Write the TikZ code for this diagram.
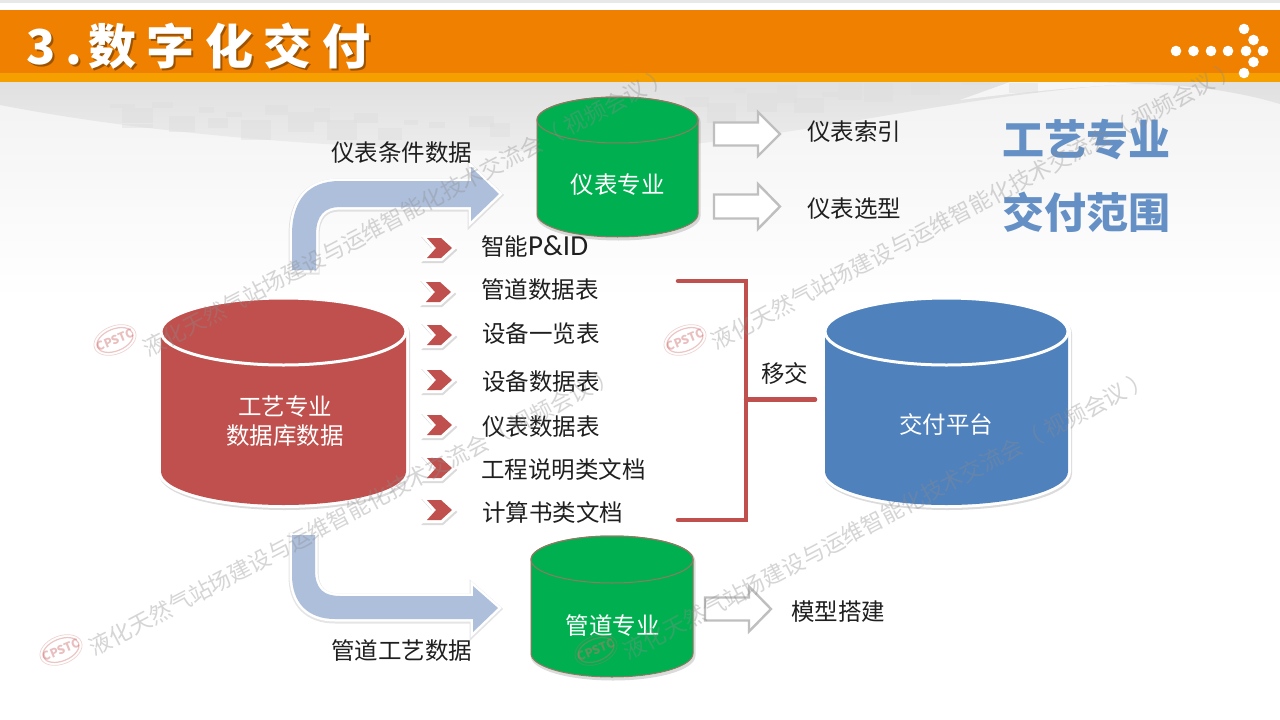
\documentclass[tikz,border=0pt]{standalone}
\usepackage{fontspec}
\setmainfont{Noto Sans CJK SC}
\newfontfamily\latinfont{Carlito}
\usetikzlibrary{calc}
\definecolor{barO}{HTML}{F08000}
\definecolor{barY}{HTML}{F5A000}
\definecolor{redC}{HTML}{C0504D}
\definecolor{blueC}{HTML}{4F81BD}
\definecolor{greenC}{HTML}{00B050}
\definecolor{edgeG}{HTML}{8F7A62}
\definecolor{arrowB}{HTML}{AEBFDB}
\definecolor{wm}{HTML}{8C8C8C}
\definecolor{wmlogo}{HTML}{D07070}
\tikzset{
  txt/.style={inner sep=0pt,yshift=-1pt,text=black!88,font=\fontsize{23.5}{28}\selectfont},
  cyltxt/.style={inner sep=0pt,yshift=-1pt,text=white,align=center,font=\fontsize{23.5}{29}\selectfont},
  bigtxt/.style={inner sep=0pt,text=blueC!88!white,font=\bfseries\fontsize{42}{44}\selectfont},
  wmtxt/.style={inner sep=0pt,text=wm,text opacity=.36,font=\fontsize{22.4}{24}\selectfont,rotate=27.8},
  wmlogoshape/.style={inner sep=0pt,text=wmlogo,text opacity=.45,font=\bfseries\fontsize{12}{12}\selectfont,rotate=22},
  softshadow/.style={draw=black,opacity=.14,line width=5pt,line join=round},
  hollow/.style={draw=black!25,fill=white,line width=2.4pt,line join=miter},
  bent/.style={fill=arrowB},
  bentrim/.style={draw=white,line width=5pt,line join=miter},
  bentshadow/.style={draw=black,opacity=.1,line width=7pt,line join=miter},
  bracket/.style={draw=redC,line width=4.5pt,line cap=round,line join=miter},
  pattern/.style={fill=black!13,opacity=.45},
  dot/.style={fill=white}
}
\newcommand\cylpath[4]{%
  (#1,#3) -- (#1,#4) .. controls (#1,{#4+.5523*\ry}) and ({(#1+#2)/2-.5523*(#2-#1)/2},{#4+\ry}) .. ({(#1+#2)/2},{#4+\ry})
  .. controls ({(#1+#2)/2+.5523*(#2-#1)/2},{#4+\ry}) and (#2,{#4+.5523*\ry}) .. (#2,#4) -- (#2,#3)
  .. controls (#2,{#3-.5523*\ry}) and ({(#1+#2)/2+.5523*(#2-#1)/2},{#3-\ry}) .. ({(#1+#2)/2},{#3-\ry})
  .. controls ({(#1+#2)/2-.5523*(#2-#1)/2},{#3-\ry}) and (#1,{#3-.5523*\ry}) .. (#1,#3) -- cycle}
\newcommand\chev[2]{%
  \draw[black,opacity=.14,line width=6pt,line join=miter,shift={(#1+1,#2+2)}] (-12,-10) -- (2,-10) -- (13,0) -- (2,10) -- (-12,10) -- (-3,0) -- cycle;
  \draw[white,line width=6pt,line join=miter,shift={(#1,#2)}] (-12,-10) -- (2,-10) -- (13,0) -- (2,10) -- (-12,10) -- (-3,0) -- cycle;
  \fill[redC,shift={(#1,#2)}] (-12,-10) -- (2,-10) -- (13,0) -- (2,10) -- (-12,10) -- (-3,0) -- cycle;
}
\newcommand\hollowarrow[6]{% x0, xbase, xtip, ymid, shaft half, head half
  \draw[hollow] (#1,#4-#5) -- (#2,#4-#5) -- (#2,#4-#6) -- (#3,#4) -- (#2,#4+#6) -- (#2,#4+#5) -- (#1,#4+#5) -- cycle;
}
\newcommand\wmlogo[3]{%
  \node[wmlogoshape] (#3) at (#1,#2) {CPSTC};
  \draw[wmlogo,opacity=.4,line width=1.2pt,rotate around={22:(#1,#2)}] (#1,#2) ellipse [x radius=19,y radius=11];
  \draw[wmlogo,opacity=.3,line width=.7pt,rotate around={22:(#1,#2)}] (#1,#2) ellipse [x radius=22,y radius=14];
}
\newcommand\wmtext{液化天然气站场建设与运维智能化技术交流会（ 视频会议 ）}
\begin{document}
\begin{tikzpicture}[x=1pt,y=-1pt]
\useasboundingbox (0,0) rectangle (1280,720);
% background
\fill[white] (0,0) rectangle (1280,720);
\shade[top color=black!5,bottom color=white] (0,82) rectangle (1280,300);
\shade[top color=black!12,bottom color=black!7] (0,82) -- (0,105) .. controls (180,140) and (420,155) .. (620,150)
  .. controls (800,140) and (950,95) .. (1130,84) .. controls (1190,84) and (1240,92) .. (1280,104) -- (1280,82) -- cycle;
\fill[black!4] (1010,82) .. controls (1080,82) and (1120,82) .. (1135,84) .. controls (1090,86) and (1020,92) .. (960,100) -- cycle;
\foreach \a/\b/\c/\d in {110/104/135/108,122/108/153/123,122/124/153/128,152/102/173/108,169/116/195/132,199/107/214/113,208/118/228/128,226/112/242/117,241/120/271/140,265/105/288/115,288/112/314/132,314/108/330/122,327/120/357/140,354/113/378/123,378/128/402/140,404/120/418/125,429/122/445/128,469/116/494/127,490/123/510/137,685/97/709/107,707/103/736/123,734/88/746/93,747/93/777/112,777/85/797/103,794/98/824/113,822/92/838/97,838/83/862/100,864/83/893/102,911/83/940/95,962/82/991/85,1009/83/1038/93}
  \fill[pattern] (\a,\b) rectangle (\c,\d);
% title bar
\fill[black!9] (0,0) rectangle (1280,3);
\fill[barO] (0,10) rectangle (1280,73);
\fill[barY] (0,73) rectangle (1280,82);
\foreach \x/\y in {1176/51,1193.5/51,1211/51,1228/51,1246/51,1263/51,1244/29,1253.5/40,1253.5/62,1244/73}
  \fill[dot] (\x,\y) circle [radius=5.3];
\node[anchor=west,inner sep=0pt,text=black!35!barO,font=\bfseries\fontsize{48}{50}\selectfont] (titleShade) at (28,48) {3\hspace{10pt}.\hspace{6pt}数\hspace{10.5pt}字\hspace{10.5pt}化\hspace{10.5pt}交\hspace{10.5pt}付};
\node[anchor=west,inner sep=0pt,text=white,font=\bfseries\fontsize{48}{50}\selectfont] (title) at (26,46) {3\hspace{10pt}.\hspace{6pt}数\hspace{10.5pt}字\hspace{10.5pt}化\hspace{10.5pt}交\hspace{10.5pt}付};
% bent arrows
\def\upperbent{(292,270) -- (292,235) .. controls (292,200) and (308,181) .. (340,181) -- (471,181) -- (471,167) -- (499,194) -- (471,221) -- (471,207) -- (340,207) .. controls (325,207) and (316,215) .. (316,235) -- (316,270) -- cycle}
\def\lowerbent{(292,535) -- (292,575) .. controls (292,603) and (308,619) .. (335,619) -- (473,619) -- (473,632) -- (498,608) -- (473,586) -- (473,596) -- (340,596) .. controls (325,596) and (315,590) .. (315,570) -- (315,535) -- cycle}
\begin{scope}[shift={(0,1)}]\draw[bentshadow] \upperbent;\draw[bentshadow] \lowerbent;\end{scope}
\draw[bentrim] \upperbent;
\fill[bent] \upperbent;
\draw[bentrim] \lowerbent;
\fill[bent] \lowerbent;
% cylinders
\def\ry{33.5}
\begin{scope}[shift={(1,2)}]\draw[softshadow,line width=6pt] \cylpath{161}{406}{331.5}{471.5};\end{scope}
\draw[white,line width=6pt,fill=redC] \cylpath{161}{406}{331.5}{471.5};
\fill[redC] \cylpath{161}{406}{331.5}{471.5};
\draw[white,line width=3pt] (283.5,331.5) ellipse [x radius=122.5,y radius=33.5];
\node[cyltxt] (db) at (285,420) {工艺专业\\数据库数据};
\begin{scope}[shift={(1,2)}]\draw[softshadow,line width=6pt] \cylpath{825}{1068}{331.5}{471.5};\end{scope}
\draw[white,line width=6pt,fill=blueC] \cylpath{825}{1068}{331.5}{471.5};
\fill[blueC] \cylpath{825}{1068}{331.5}{471.5};
\draw[white,line width=3pt] (946.5,331.5) ellipse [x radius=121.5,y radius=33.5];
\node[cyltxt] (platform) at (946,423) {交付平台};
\def\ry{23}
\begin{scope}[shift={(1,2)}]\draw[softshadow,line width=3pt] \cylpath{537}{698}{120}{214};\end{scope}
\draw[edgeG,line width=1pt,fill=greenC] \cylpath{537}{698}{120}{214};
\draw[edgeG,line width=1pt] (617.5,120) ellipse [x radius=80.5,y radius=23];
\node[cyltxt] (inst) at (617.5,184) {仪表专业};
\def\ry{23.5}
\begin{scope}[shift={(1,2)}]\draw[softshadow,line width=3pt] \cylpath{531}{693}{559.5}{653.5};\end{scope}
\draw[edgeG,line width=1pt,fill=greenC] \cylpath{531}{693}{559.5}{653.5};
\draw[edgeG,line width=1pt] (612,559.5) ellipse [x radius=81,y radius=23.5];
\node[cyltxt] (pipe) at (612.5,625) {管道专业};
% hollow arrows
\hollowarrow{714}{758}{780}{134}{11.5}{22}
\hollowarrow{714}{758}{780}{206.5}{12}{22.5}
\hollowarrow{705}{749}{771}{609}{11.5}{22.5}
% chevrons
\chev{439}{248}\chev{438}{292}\chev{439}{335}\chev{439}{380}\chev{439}{425}\chev{439}{468}\chev{439}{510}
% labels
\node[txt,anchor=center] (condLabel) at (401.5,152) {仪表条件数据};
\node[txt,anchor=center] (pipeLabel) at (401.5,650) {管道工艺数据};
\node[txt,anchor=west] (i1) at (481,246) {智能{\latinfont\fontsize{29}{28}\selectfont P\&ID}};
\node[txt,anchor=west] (i2) at (481,289) {管道数据表};
\node[txt,anchor=west] (i3) at (482,333) {设备一览表};
\node[txt,anchor=west] (i4) at (482,381) {设备数据表};
\node[txt,anchor=west] (i5) at (482,426) {仪表数据表};
\node[txt,anchor=west] (i6) at (481,469) {工程说明类文档};
\node[txt,anchor=west] (i7) at (482,511) {计算书类文档};
\node[txt,anchor=west] (idx) at (807,131) {仪表索引};
\node[txt,anchor=west] (sel) at (807,208) {仪表选型};
\node[txt,anchor=west] (model) at (791,611) {模型搭建};
\node[txt,anchor=center] (handover) at (784.5,373) {移交};
\node[bigtxt,anchor=center] (big1) at (1086.5,140) {工艺专业};
\node[bigtxt,anchor=center] (big2) at (1086.5,212) {交付范围};
% bracket
\coordinate (brTop) at (678,281);
\coordinate (brBot) at (678,520);
\coordinate (brMid) at (746,399.5);
\coordinate (brEnd) at (815,399.5);
\draw[bracket] (brTop) -- (brTop -| brMid) -- (brBot -| brMid) -- (brBot);
\draw[bracket] (brMid) -- (brEnd);
% watermarks
\node[wmtxt] (wm1) at (407,212) {\wmtext};
\node[wmtxt] (wm2) at (975,205) {\wmtext};
\node[wmtxt] (wm3) at (353,511) {\wmtext};
\node[wmtxt] (wm4) at (887,515) {\wmtext};
\wmlogo{115}{340}{wl1}
\wmlogo{685}{340}{wl2}
\wmlogo{61}{650}{wl3}
\wmlogo{596}{650}{wl4}
\end{tikzpicture}
\end{document}
